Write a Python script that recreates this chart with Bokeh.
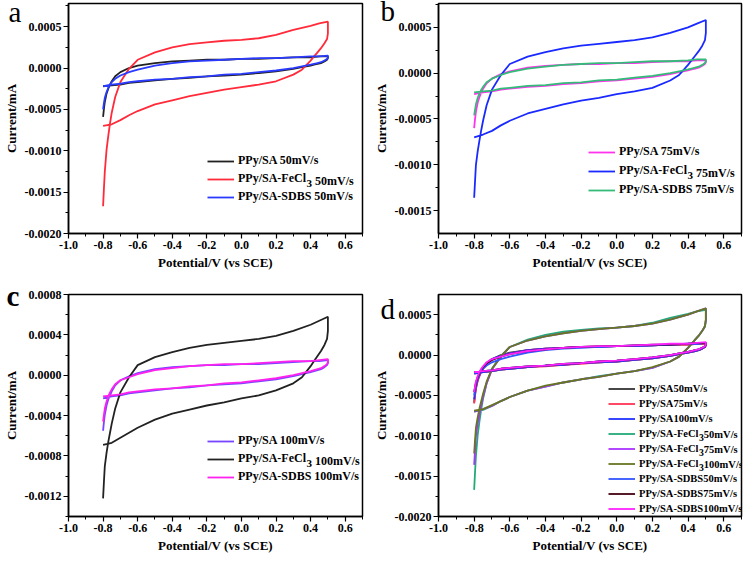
from bokeh.plotting import figure
from bokeh.models import FixedTicker, PrintfTickFormatter, Range1d, Legend, LegendItem, Title, Label
from bokeh.layouts import gridplot
from bokeh.embed import file_html
from bokeh.resources import INLINE

# ---------------- data ----------------
# shared potential grids (V vs SCE): forward scan and reverse scan
pot_fwd = [-0.8, -0.795, -0.79, -0.78, -0.77, -0.76, -0.75, -0.73, -0.7, -0.65, -0.6, -0.5,
           -0.4, -0.3, -0.2, -0.1, 0.0, 0.1, 0.2, 0.3, 0.4, 0.45, 0.5]
pot_rev = [0.5, 0.5, 0.495, 0.48, 0.46, 0.44, 0.42, 0.4, 0.35, 0.3, 0.2, 0.1, 0.0,
           -0.1, -0.2, -0.3, -0.4, -0.5, -0.6, -0.65, -0.7, -0.75, -0.8]

# currents (mA)
sa50_fwd = [-0.00059, -0.00049, -0.00041, -0.00031, -0.00025, -0.0002, -0.00016, -0.0001, -0.00005, 0.0, 0.00003, 0.00006,
            0.00008, 0.00009, 0.0001, 0.0001, 0.00011, 0.00011, 0.00012, 0.00013, 0.00013, 0.00014, 0.00014]
sa50_rev = [0.00014, 0.00012, 0.0001, 0.00008, 0.00006, 0.00005, 0.00004, 0.00003, 0.00001, -0.00001, -0.00004, -0.00006,
            -0.00008, -0.00009, -0.0001, -0.00012, -0.00013, -0.00015, -0.00017, -0.00018, -0.0002, -0.00021, -0.00022]
fe50_fwd = [-0.00167, -0.00145, -0.00125, -0.00099, -0.00082, -0.00067, -0.00054, -0.00035, -0.00017, -0.00001, 0.0001, 0.00019,
            0.00025, 0.00029, 0.00031, 0.00033, 0.00034, 0.00036, 0.0004, 0.00046, 0.00051, 0.00054, 0.00056]
fe50_rev = [0.00056, 0.00042, 0.00035, 0.0003, 0.00024, 0.00019, 0.00014, 0.00009, -0.00002, -0.00008, -0.00016, -0.0002,
            -0.00023, -0.00026, -0.0003, -0.00034, -0.00039, -0.00044, -0.00052, -0.00057, -0.00063, -0.00068, -0.0007]
sdbs50_fwd = [-0.0005, -0.00042, -0.00036, -0.00029, -0.00024, -0.0002, -0.00017, -0.00013, -0.00009, -0.00005, -0.00002, 0.00003,
              0.00006, 0.00008, 0.00009, 0.0001, 0.00011, 0.00012, 0.00012, 0.00013, 0.00014, 0.00014, 0.00015]
sdbs50_rev = [0.00015, 0.00013, 0.00011, 0.00009, 0.00007, 0.00006, 0.00005, 0.00004, 0.00002, 0.0, -0.00003, -0.00005,
              -0.00007, -0.00008, -0.0001, -0.00011, -0.00013, -0.00014, -0.00016, -0.00017, -0.00019, -0.0002, -0.00022]

sa75_fwd = [-0.0006, -0.0005, -0.00042, -0.00032, -0.00026, -0.00021, -0.00017, -0.00011, -0.00006, -0.00001, 0.00002, 0.00006,
            0.00008, 0.00009, 0.0001, 0.0001, 0.00011, 0.00011, 0.00012, 0.00013, 0.00013, 0.00014, 0.00014]
sa75_rev = [0.00014, 0.00012, 0.0001, 0.00008, 0.00006, 0.00005, 0.00004, 0.00003, 0.00001, -0.00001, -0.00004, -0.00006,
            -0.00008, -0.00009, -0.00011, -0.00012, -0.00014, -0.00015, -0.00017, -0.00018, -0.0002, -0.00021, -0.00023]
fe75_fwd = [-0.00136, -0.00118, -0.001, -0.00085, -0.00073, -0.00062, -0.00052, -0.00035, -0.00018, -0.00002, 0.0001, 0.00018,
            0.00023, 0.00027, 0.0003, 0.00032, 0.00034, 0.00036, 0.00039, 0.00044, 0.0005, 0.00054, 0.00058]
fe75_rev = [0.00058, 0.00044, 0.00036, 0.0003, 0.00024, 0.00019, 0.00014, 0.00009, -0.00002, -0.00008, -0.00016, -0.0002,
            -0.00023, -0.00027, -0.0003, -0.00034, -0.00039, -0.00044, -0.00052, -0.00057, -0.00063, -0.00067, -0.0007]
sdbs75_fwd = [-0.00046, -0.0004, -0.00034, -0.00027, -0.00022, -0.00018, -0.00015, -0.0001, -0.00006, -0.00002, 0.00001, 0.00005,
              0.00007, 0.00009, 0.0001, 0.00011, 0.00011, 0.00012, 0.00013, 0.00013, 0.00014, 0.00015, 0.00015]
sdbs75_rev = [0.00015, 0.00013, 0.00011, 0.00009, 0.00007, 0.00006, 0.00005, 0.00004, 0.00002, 0.0, -0.00003, -0.00005,
              -0.00007, -0.00008, -0.0001, -0.00011, -0.00013, -0.00014, -0.00016, -0.00017, -0.00019, -0.0002, -0.00021]

sa100_fwd = [-0.00055, -0.00046, -0.00039, -0.0003, -0.00024, -0.0002, -0.00016, -0.0001, -0.00005, -0.00001, 0.00002, 0.00006,
             0.00008, 0.00009, 0.0001, 0.0001, 0.00011, 0.00011, 0.00012, 0.00013, 0.00014, 0.00014, 0.00015]
sa100_rev = [0.00015, 0.00012, 0.0001, 0.00008, 0.00006, 0.00005, 0.00004, 0.00003, 0.00001, -0.00001, -0.00004, -0.00006,
             -0.00008, -0.00009, -0.0001, -0.00012, -0.00013, -0.00015, -0.00017, -0.00018, -0.0002, -0.00021, -0.00023]
fe100_fwd = [-0.00122, -0.00105, -0.0009, -0.00077, -0.00066, -0.00057, -0.00048, -0.00033, -0.00017, -0.00002, 0.0001, 0.00018,
             0.00023, 0.00027, 0.0003, 0.00032, 0.00034, 0.00036, 0.00039, 0.00044, 0.0005, 0.00054, 0.00058]
fe100_rev = [0.00058, 0.00044, 0.00036, 0.0003, 0.00024, 0.00019, 0.00014, 0.00009, -0.00002, -0.00008, -0.00015, -0.0002,
             -0.00023, -0.00027, -0.0003, -0.00034, -0.00038, -0.00044, -0.00052, -0.00057, -0.00062, -0.00067, -0.00069]
sdbs100_fwd = [-0.00046, -0.00039, -0.00033, -0.00026, -0.00021, -0.00017, -0.00014, -0.00009, -0.00005, -0.00002, 0.00001, 0.00005,
               0.00007, 0.00009, 0.0001, 0.00011, 0.00011, 0.00012, 0.00013, 0.00014, 0.00014, 0.00015, 0.00016]
sdbs100_rev = [0.00016, 0.00013, 0.00011, 0.00009, 0.00007, 0.00006, 0.00005, 0.00004, 0.00002, 0.0, -0.00003, -0.00005,
               -0.00007, -0.00008, -0.0001, -0.00011, -0.00013, -0.00014, -0.00016, -0.00017, -0.00019, -0.0002, -0.00021]

# tick values
x_ticks = [-1.0, -0.8, -0.6, -0.4, -0.2, 0.0, 0.2, 0.4, 0.6]
y_ticks_a = [-0.002, -0.0015, -0.001, -0.0005, 0.0, 0.0005]
y_ticks_b = [-0.0015, -0.001, -0.0005, 0.0, 0.0005]
y_ticks_c = [-0.0012, -0.0008, -0.0004, 0.0, 0.0004, 0.0008]
y_ticks_d = [-0.002, -0.0015, -0.001, -0.0005, 0.0, 0.0005]

FONT = "Liberation Serif"
PREFIX_EM = 5.666   # advance width of "PPy/SA-FeCl" in Liberation Serif Bold, in em
SPACE_EM = 0.25
GLYPH_W = 27
STANDOFF = 4


def minor_of(ticks, lo, hi):
    step = ticks[1] - ticks[0]
    out = []
    t = ticks[0] - step / 2
    while t < hi:
        if t > lo:
            out.append(t)
        t += step / 2
    return out


def make_fig(letter, style, off, lstand, yr, yticks, w, h, bl, br, bt, bb):
    title = Title(text=letter, align="left", offset=off, standoff=lstand, vertical_align="bottom",
                  text_font=FONT, text_font_size="29px", text_font_style=style, text_color="black")
    p = figure(width=w, height=h, output_backend="svg", toolbar_location=None, title=title,
               x_range=Range1d(-1.0, 0.7), y_range=Range1d(*yr),
               min_border_left=bl, min_border_right=br, min_border_top=bt, min_border_bottom=bb)
    p.xgrid.visible = False
    p.ygrid.visible = False
    p.outline_line_color = "black"
    p.outline_line_width = 1.5
    p.background_fill_color = "white"
    p.border_fill_color = "white"
    p.xaxis.ticker = FixedTicker(ticks=x_ticks, minor_ticks=minor_of(x_ticks, -1.0, 0.7))
    p.yaxis.ticker = FixedTicker(ticks=yticks, minor_ticks=minor_of(yticks, yr[0], yr[1]))
    p.xaxis.formatter = PrintfTickFormatter(format="%.1f")
    p.yaxis.formatter = PrintfTickFormatter(format="%.4f")
    p.xaxis.axis_label = "Potential/V (vs SCE)"
    p.yaxis.axis_label = "Current/mA"
    for ax in (p.xaxis, p.yaxis):
        ax.axis_line_width = 1.5
        ax.axis_line_color = "black"
        ax.major_tick_in = 0
        ax.major_tick_out = 5
        ax.minor_tick_in = 0
        ax.minor_tick_out = 3
        ax.major_tick_line_width = 1.2
        ax.minor_tick_line_width = 1.0
        ax.major_label_text_font = FONT
        ax.major_label_text_font_style = "bold"
        ax.major_label_text_font_size = "12px"
        ax.major_label_text_color = "black"
        ax.major_label_standoff = 2
        ax.axis_label_text_font = FONT
        ax.axis_label_text_font_style = "bold"
        ax.axis_label_text_font_size = "13px"
        ax.axis_label_text_color = "black"
        ax.axis_label_standoff = 3
    return p


def add_curves(p, curves, loc, spacing, fsize, row_h):
    items = []
    n = len(curves)
    leg_h = n * row_h + (n - 1) * spacing
    for i, (label, fwd, rev, color) in enumerate(curves):
        r = p.line(pot_fwd + pot_rev, fwd + rev, line_color=color, line_width=1.8)
        if isinstance(label, tuple):
            prefix, sub, rest = label
            items.append(LegendItem(label=prefix, renderers=[r]))
            yc = loc[1] + leg_h - (i * (row_h + spacing) + row_h / 2)
            x0 = loc[0] + GLYPH_W + STANDOFF + PREFIX_EM * fsize
            sub_size = fsize * 0.92
            x1 = x0 + 0.5 * sub_size
            if rest.startswith(" "):
                x1 += SPACE_EM * fsize
                rest = rest.strip()
            p.add_layout(Label(x=x0, y=yc - 3, x_units="screen", y_units="screen", text=sub,
                               text_baseline="middle", text_align="left", text_font=FONT,
                               text_font_style="bold", text_font_size=f"{sub_size}px", text_color="black"))
            p.add_layout(Label(x=x1, y=yc, x_units="screen", y_units="screen", text=rest,
                               text_baseline="middle", text_align="left", text_font=FONT,
                               text_font_style="bold", text_font_size=f"{fsize}px", text_color="black"))
        else:
            items.append(LegendItem(label=label, renderers=[r]))
    leg = Legend(items=items, location=loc, border_line_alpha=0, background_fill_alpha=0,
                 padding=0, margin=0, spacing=spacing, glyph_width=GLYPH_W, glyph_height=row_h,
                 label_height=row_h, label_standoff=STANDOFF, label_text_font=FONT,
                 label_text_font_style="bold", label_text_font_size=f"{fsize}px",
                 label_text_color="black")
    p.add_layout(leg)


pa = make_fig("a", "normal", -60, -48, (-0.002, 0.00078), y_ticks_a, 370, 281, 60, 8, 3, 48)
add_curves(pa, [("PPy/SA 50mV/s", sa50_fwd, sa50_rev, "#222222"),
                (("PPy/SA-FeCl", "3", " 50mV/s"), fe50_fwd, fe50_rev, "#ff2a3a"),
                ("PPy/SA-SDBS 50mV/s", sdbs50_fwd, sdbs50_rev, "#2a3aff")], (139, 29), 3, 12, 14)

pb = make_fig("b", "normal", -58, -47, (-0.00175, 0.00076), y_ticks_b, 374, 281, 63, 3, 2, 46)
add_curves(pb, [("PPy/SA 75mV/s", sa75_fwd, sa75_rev, "#ff33ee"),
                (("PPy/SA-FeCl", "3", " 75mV/s"), fe75_fwd, fe75_rev, "#1a2aff"),
                ("PPy/SA-SDBS 75mV/s", sdbs75_fwd, sdbs75_rev, "#33bb77")], (150, 36), 4, 12, 14)

pc = make_fig("c", "bold", -62, -34, (-0.0014, 0.0008), y_ticks_c, 370, 274, 60, 8, 13, 37)
add_curves(pc, [("PPy/SA 100mV/s", sa100_fwd, sa100_rev, "#7744ff"),
                (("PPy/SA-FeCl", "3", " 100mV/s"), fe100_fwd, fe100_rev, "#222222"),
                ("PPy/SA-SDBS 100mV/s", sdbs100_fwd, sdbs100_rev, "#ff22ee")], (139, 32), 3, 12, 14)

pd = make_fig("d", "normal", -58, -60, (-0.002, 0.00075), y_ticks_d, 374, 274, 63, 3, 13, 37)
add_curves(pd, [("PPy/SA50mV/s", sa50_fwd, sa50_rev, "#333333"),
                ("PPy/SA75mV/s", sa75_fwd, sa75_rev, "#ff3355"),
                ("PPy/SA100mV/s", sa100_fwd, sa100_rev, "#2233ff"),
                (("PPy/SA-FeCl", "3", "50mV/s"), fe50_fwd, fe50_rev, "#22aa77"),
                (("PPy/SA-FeCl", "3", "75mV/s"), fe75_fwd, fe75_rev, "#aa33ff"),
                (("PPy/SA-FeCl", "3", "100mV/s"), fe100_fwd, fe100_rev, "#667722"),
                ("PPy/SA-SDBS50mV/s", sdbs50_fwd, sdbs50_rev, "#3355ff"),
                ("PPy/SA-SDBS75mV/s", sdbs75_fwd, sdbs75_rev, "#440011"),
                ("PPy/SA-SDBS100mV/s", sdbs100_fwd, sdbs100_rev, "#ff22ff")], (170, 0), 0, 10.5, 15)

grid = gridplot([[pa, pb], [pc, pd]], toolbar_location=None)

open("out.html", "w").write(file_html(grid, INLINE))
